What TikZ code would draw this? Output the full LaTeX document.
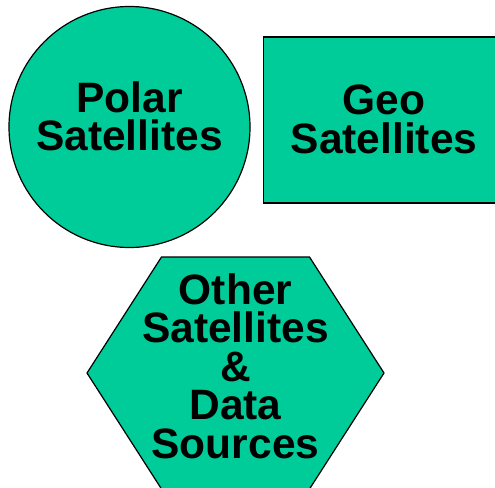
\documentclass[tikz,border=0pt]{standalone}
\usepackage{fontspec}
\setmainfont{Liberation Sans}
\usepackage{tikz}
\usetikzlibrary{positioning,calc}
\definecolor{satgreen}{RGB}{0,204,153}

\begin{document}
\begin{tikzpicture}[x=1bp,y=-1bp,every node/.style={font=\bfseries\fontsize{42.5bp}{38.5bp}\selectfont,align=center,inner sep=0pt},
  satshape/.style={fill=satgreen,draw=black,line width=1.2bp}]
\useasboundingbox (0,0) rectangle (495,488);
\node[satshape,circle,minimum size=241bp,text depth=22bp] (polar) at (129.5,127) {Polar\\Satellites};
\node[satshape,rectangle,minimum width=241bp,minimum height=166bp,text depth=2bp] (geo) at (384,120) {Geo\\Satellites};
\coordinate (hexc) at (235.5,373);
\fill[satgreen,draw=black,line width=1.2bp] ($(hexc)+(-148.5,0)$) -- ($(hexc)+(-74,-116)$) -- ($(hexc)+(74,-116)$)
  -- ($(hexc)+(148.5,0)$) -- ($(hexc)+(74,116)$) -- ($(hexc)+(-74,116)$) -- cycle;
\node[text depth=14bp] (other) at (hexc) {Other\\Satellites\\\&\\Data\\Sources};
\end{tikzpicture}
\end{document}
